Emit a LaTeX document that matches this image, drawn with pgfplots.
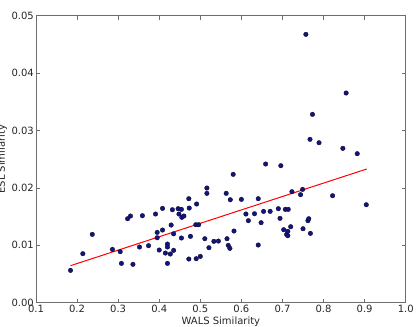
\documentclass[border=0pt]{standalone}
\usepackage{fontspec}
\setmainfont{DejaVu Sans}
\usepackage{pgfplots}
\pgfplotsset{compat=1.18}
\definecolor{dotblue}{RGB}{20,20,125}
\definecolor{framegray}{RGB}{110,110,110}
\begin{document}
\begin{tikzpicture}
\begin{axis}[
  scale only axis,
  width=369.7pt, height=287pt,
  xmin=0.1, xmax=1.0, ymin=0, ymax=0.05,
  xtick={0.1,0.2,...,1.0},
  ytick={0,0.01,...,0.05},
  xticklabels={0.1,0.2,0.3,0.4,0.5,0.6,0.7,0.8,0.9,1.0},
  yticklabels={0.00,0.01,0.02,0.03,0.04,0.05},
  scaled y ticks=false,
  /pgf/number format/assume math mode=true,
  tick align=inside,
  major tick length=4pt,
  tick style={framegray, line width=0.6pt},
  axis line style={framegray, line width=1pt},
  ticklabel style={font=\fontsize{10}{12}\selectfont, text=black!85},
  xticklabel style={inner sep=2pt},
  yticklabel style={inner sep=2pt},
  xlabel={WALS Similarity},
  ylabel={ESL Similarity},
  label style={font=\fontsize{10}{12}\selectfont, text=black!85},
  xlabel style={yshift=1pt},
  ylabel style={yshift=-1pt},
]
\coordinate (sw) at (rel axis cs:0,0);
\coordinate (ne) at (rel axis cs:1,1);
\addplot[only marks, mark=*, mark size=2.3pt, mark options={fill=dotblue, draw=black!70!dotblue, line width=0.3pt}] coordinates {
(0.184,0.00563) (0.214,0.00854) (0.237,0.0119) (0.286,0.00929) (0.305,0.00889)
(0.308,0.00685) (0.336,0.00668) (0.323,0.01463) (0.330,0.0151) (0.359,0.01516)
(0.352,0.0097) (0.374,0.00993) (0.391,0.01545) (0.395,0.01225) (0.395,0.01132)
(0.400,0.00918) (0.408,0.01643) (0.408,0.01266) (0.415,0.00865) (0.420,0.01022)
(0.420,0.0097) (0.420,0.00685) (0.427,0.00848) (0.429,0.01353) (0.432,0.0162)
(0.435,0.0120) (0.435,0.00912) (0.446,0.01638) (0.448,0.01545) (0.454,0.01626)
(0.454,0.01127) (0.455,0.01487) (0.460,0.0151) (0.472,0.01812) (0.473,0.01649)
(0.472,0.00761) (0.476,0.01156) (0.491,0.01719) (0.489,0.01359) (0.496,0.01359)
(0.490,0.00767) (0.500,0.00807) (0.511,0.01115) (0.516,0.01998) (0.516,0.01905)
(0.521,0.00958) (0.533,0.01069) (0.544,0.01074) (0.563,0.01905) (0.565,0.01115)
(0.568,0.00999) (0.572,0.00947) (0.573,0.01794) (0.580,0.02236) (0.582,0.01249)
(0.600,0.018) (0.611,0.01545) (0.617,0.01429) (0.632,0.0155) (0.641,0.01812)
(0.641,0.01005) (0.648,0.01394) (0.654,0.01591) (0.659,0.02416) (0.670,0.01591)
(0.690,0.01638) (0.694,0.01469) (0.696,0.02387) (0.703,0.01272) (0.707,0.01626)
(0.710,0.0119) (0.714,0.01626) (0.713,0.01243) (0.713,0.01167) (0.720,0.01324)
(0.723,0.01934) (0.744,0.01882) (0.749,0.01974) (0.750,0.01289) (0.757,0.04675)
(0.762,0.01429) (0.764,0.01463) (0.767,0.02846) (0.768,0.01208) (0.773,0.03281)
(0.789,0.02787) (0.822,0.01864) (0.847,0.02689) (0.855,0.03653) (0.882,0.02596)
(0.904,0.01707)
};
\addplot[red, line width=1pt] coordinates {(0.184,0.00645) (0.905,0.02329)};
\end{axis}
\pgfresetboundingbox
\path[use as bounding box] ([shift={(-36pt,-23.3pt)}]sw) rectangle ([shift={(13.3pt,15.7pt)}]ne);
\end{tikzpicture}
\end{document}
